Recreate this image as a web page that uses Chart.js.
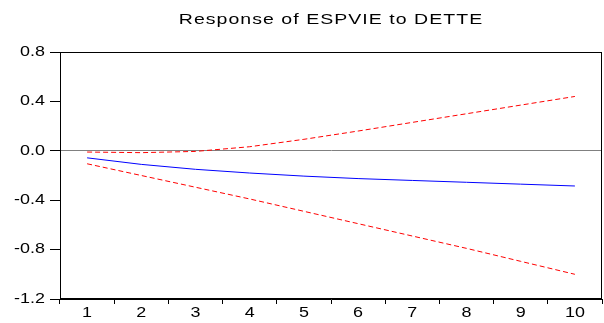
<!DOCTYPE html>
<html><head><meta charset="utf-8">
<script src="https://cdn.jsdelivr.net/npm/chart.js@4/dist/chart.umd.min.js"></script>
<style>html,body{margin:0;padding:0;background:#fff}#wrap{width:604px;height:323px}</style>
</head><body><div id="wrap"><canvas id="c" width="604" height="323"></canvas></div>
<script>
const periods = ['1','2','3','4','5','6','7','8','9','10'];
const response = [-0.057, -0.11, -0.15, -0.18, -0.205, -0.225, -0.24, -0.255, -0.27, -0.285];
const upperBand = [-0.01, -0.015, -0.005, 0.033, 0.093, 0.16, 0.23, 0.30, 0.37, 0.44];
const lowerBand = [-0.105, -0.2, -0.295, -0.39, -0.49, -0.59, -0.69, -0.79, -0.895, -1.0];
const yTicks = [0.8, 0.4, 0.0, -0.4, -0.8, -1.2];

const FONT = 'Liberation Sans, Arial, sans-serif';
const STRETCH = 1.28;

const frame = {
  id: 'frame',
  afterInit(chart) {
    const tb = chart.titleBlock;
    if (tb) {
      const orig = tb.draw.bind(tb);
      tb.draw = function () {
        const ctx = chart.ctx;
        const cx = (tb.left + tb.right) / 2;
        ctx.save();
        ctx.letterSpacing = '0.8px';
        ctx.translate(cx, 0);
        ctx.scale(1.3, 1);
        ctx.translate(-cx, 0);
        orig();
        ctx.restore();
      };
    }
  },
  afterDraw(chart) {
    const {ctx, chartArea: a} = chart;
    ctx.save();
    ctx.strokeStyle = '#000';
    ctx.lineWidth = 1;
    ctx.strokeRect(Math.round(a.left) + 0.5, Math.round(a.top) + 0.5, Math.round(a.right - a.left) - 1, Math.round(a.bottom - a.top) - 1);
    ctx.restore();

    ctx.save();
    ctx.fillStyle = '#000';
    ctx.font = '14px ' + FONT;
    ctx.textBaseline = 'middle';
    const ys = chart.scales.y;
    ys.ticks.forEach((t, i) => {
      const py = ys.getPixelForTick(i);
      ctx.save();
      ctx.translate(a.left - 15, py);
      ctx.scale(STRETCH, 1);
      ctx.textAlign = 'right';
      ctx.fillText(Number(t.value).toFixed(1), 0, 0);
      ctx.restore();
    });
    const xs = chart.scales.x;
    xs.ticks.forEach((t, i) => {
      const px = xs.getPixelForTick(i);
      ctx.save();
      ctx.translate(px, a.bottom + 14.5);
      ctx.scale(STRETCH, 1);
      ctx.textAlign = 'center';
      ctx.fillText(periods[i], 0, 0);
      ctx.restore();
    });
    ctx.restore();
  }
};

new Chart(document.getElementById('c'), {
  type: 'line',
  data: {
    labels: periods,
    datasets: [
      {data: response, borderColor: '#0000ff', borderWidth: 1, pointRadius: 0, fill: false, tension: 0},
      {data: upperBand, borderColor: '#ff0000', borderWidth: 1, borderDash: [5, 3], pointRadius: 0, fill: false, tension: 0},
      {data: lowerBand, borderColor: '#ff0000', borderWidth: 1, borderDash: [5, 3], pointRadius: 0, fill: false, tension: 0}
    ]
  },
  options: {
    responsive: false,
    animation: false,
    layout: {padding: {left: 0, right: 2, top: 0, bottom: 0}},
    plugins: {
      legend: {display: false},
      tooltip: {enabled: false},
      title: {display: true, fullSize: false, text: 'Response of ESPVIE to DETTE', color: '#000',
        font: {family: FONT, size: 15, weight: 'normal', lineHeight: 1.2}, padding: {top: 11, bottom: 23}}
    },
    scales: {
      x: {
        offset: true,
        afterFit(s) { s.height = 24; },
        grid: {offset: true, drawOnChartArea: false, tickColor: '#000', tickLength: 5, color: '#000'},
        border: {color: '#000', width: 1},
        ticks: {display: false}
      },
      y: {
        min: -1.2, max: 0.8,
        afterFit(s) { s.width = 60; },
        afterBuildTicks(axis) { axis.ticks = yTicks.map(v => ({value: v})); },
        grid: {color: c => (c.tick && Math.abs(c.tick.value) < 1e-9) ? '#808080' : 'rgba(0,0,0,0)', tickColor: '#000', tickLength: 10, lineWidth: 1},
        border: {color: '#000', width: 1},
        ticks: {display: false}
      }
    }
  },
  plugins: [frame]
});
</script></body></html>
